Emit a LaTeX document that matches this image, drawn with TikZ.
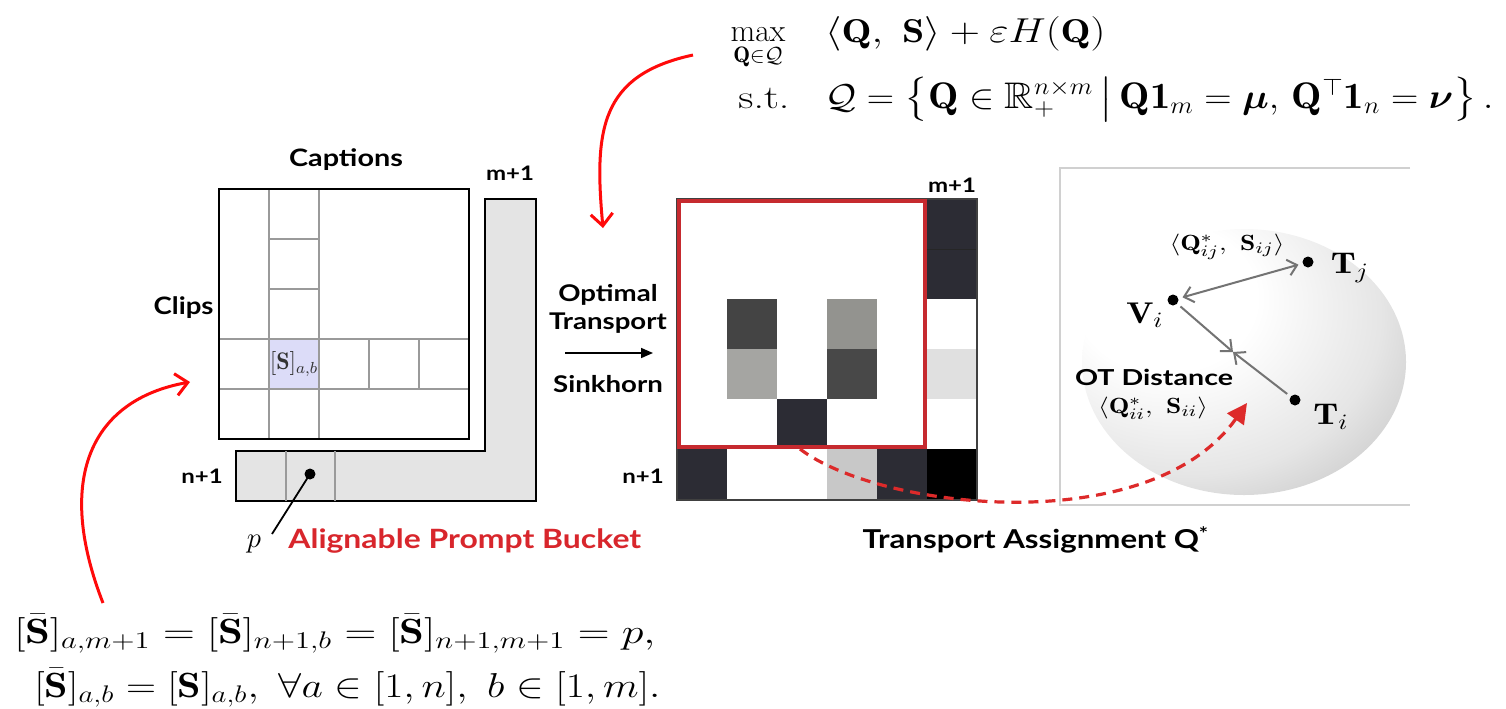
\documentclass[tikz,border=0pt]{standalone}
\usepackage{amsmath,amssymb}
\usepackage{fontspec}
\setsansfont{Lato}
\usetikzlibrary{arrows.meta}
\definecolor{arrowred}{HTML}{FF0A0A}
\definecolor{boxred}{HTML}{C62A2F}
\definecolor{txtred}{HTML}{D8262C}
\definecolor{dashred}{HTML}{DD2A2A}
\definecolor{lshapegray}{HTML}{E4E4E4}
\definecolor{gridgray}{HTML}{9A9A9A}
\definecolor{lavender}{HTML}{DCDCF8}
\definecolor{cdark}{HTML}{2C2C34}
\definecolor{cmid}{HTML}{444444}
\definecolor{clight}{HTML}{A5A5A2}
\definecolor{cgrey}{HTML}{93938F}
\definecolor{cmid2}{HTML}{484848}
\definecolor{cpale}{HTML}{E0E0E0}
\definecolor{cpale2}{HTML}{C8C8C8}
\definecolor{panelgray}{HTML}{D0D0D0}
\definecolor{vecgray}{HTML}{737373}
\newcommand{\xs}[2]{\scalebox{#1}[1]{#2}}
\pgfdeclareradialshading{ballshade}{\pgfpoint{-15bp}{15bp}}{color(0bp)=(white); color(14bp)=(white); color(30bp)=(black!10); color(50bp)=(black!33); color(72bp)=(black!62)}
\tikzset{
  lab/.style={font=\sffamily\bfseries\fontsize{12}{14}\selectfont, inner sep=0pt},
  smalllab/.style={font=\sffamily\bfseries\fontsize{10}{12}\selectfont, inner sep=0pt},
  mth/.style={font=\fontsize{16.5}{20}\selectfont, inner sep=0pt},
  botmth/.style={font=\fontsize{17.5}{20}\selectfont, inner sep=0pt},
  cellmath/.style={font=\fontsize{12}{14}\selectfont, inner sep=0pt, text=black!80},
  spheremath/.style={font=\fontsize{11}{13}\selectfont, inner sep=0pt},
  bigmath/.style={font=\fontsize{15}{17}\selectfont, inner sep=0pt},
  gridl/.style={draw=gridgray, line width=1pt},
  outerbox/.style={draw=black, line width=1pt},
  dot/.style={circle, fill=black, inner sep=0pt, minimum size=5.5pt},
  redcurve/.style={draw=arrowred, line width=1.5pt, -{Straight Barb[length=6pt,width=11pt,line width=1.5pt]}},
  vecarrow/.style={draw=vecgray, line width=1pt, -{Straight Barb[length=4.5pt,width=8pt,line width=1pt]}},
}
\begin{document}
\begin{tikzpicture}[x=0.5pt,y=-0.5pt]
\useasboundingbox (0,0) rectangle (1506,708);

% ---------- top formula ----------
\node[font=\fontsize{16}{18}\selectfont, inner sep=0pt, anchor=base] (maxop) at (758,41) {$\max\limits_{\mathbf{Q}\in\mathcal{Q}}$};
\node[mth, anchor=base west] (obj) at (825,42) {\resizebox{140pt}{\height}{$\langle\mathbf{Q},\ \mathbf{S}\rangle+\varepsilon H(\mathbf{Q})$}};
\node[mth, anchor=base west] (st) at (738,108) {\resizebox{25.5pt}{\height}{s.t.}};
\node[font=\fontsize{18.5}{22}\selectfont, inner sep=0pt, anchor=base west] (cons) at (825,108) {\resizebox{334pt}{\height}{$\mathcal{Q}=\left\{\mathbf{Q}\in\mathbb{R}_{+}^{n\times m}\,\middle|\,\mathbf{Q}\mathbf{1}_{m}=\boldsymbol{\mu},\,\mathbf{Q}^{\top}\mathbf{1}_{n}=\boldsymbol{\nu}\right\}.$}};

% ---------- left matrix ----------
\fill[lavender] (269,339) rectangle (319,389);
\draw[gridl] (269,189) -- (269,439) (319,189) -- (319,439)
  (219,339) -- (469,339) (219,389) -- (469,389)
  (269,239) -- (319,239) (269,289) -- (319,289)
  (369,339) -- (369,389) (419,339) -- (419,389);
\draw[outerbox] (219,189) rectangle (469,439);
\node[cellmath] (sab) at (294,364) {$[\mathbf{S}]_{a,b}$};

\draw[outerbox, fill=lshapegray] (485,199) -- (536,199) -- (536,501) -- (236,501) -- (236,451) -- (485,451) -- cycle;
\draw[gridl] (286,451) -- (286,501) (335,451) -- (335,501);
\node[dot] (pdot) at (310,474) {};
\coordinate (pend) at (272,534);
\draw[line width=0.9pt] (pdot.center) -- (pend);
\node[font=\fontsize{15}{17}\selectfont, inner sep=0pt] (plab) at (254,544) {$p$};

\node[lab] (captions) at (346,160) {\xs{1.2}{Captions}};
\node[lab, anchor=east] (clips) at (214,308) {\xs{1.15}{Clips}};
\node[smalllab] (m1a) at (510,173) {\xs{1.2}{m+1}};
\node[smalllab] (n1a) at (202,476) {\xs{1.2}{n+1}};
\node[lab, anchor=west, text=txtred, font=\sffamily\bfseries\fontsize{13.3}{15}\selectfont] (bucket) at (288,541) {\xs{1.2}{Alignable Prompt Bucket}};

% ---------- OT arrow ----------
\node[lab, font=\sffamily\bfseries\fontsize{11.5}{14}\selectfont] (optlab) at (608,295) {\xs{1.2}{Optimal}};
\node[lab, font=\sffamily\bfseries\fontsize{11.5}{14}\selectfont] (translab) at (608,323) {\xs{1.2}{Transport}};
\node[lab, font=\sffamily\bfseries\fontsize{11.5}{14}\selectfont] (sink) at (608,384) {\xs{1.2}{Sinkhorn}};
\coordinate (otA) at (565,353);
\coordinate (otB) at (653,353);
\draw[line width=0.8pt, -{Triangle[length=6pt,width=5pt]}] (otA) -- (otB);

% ---------- right matrix ----------
\fill[cmid]   (727,299) rectangle (777,349);
\fill[clight] (727,349) rectangle (777,399);
\fill[cgrey]  (827,299) rectangle (877,349);
\fill[cmid2]  (827,349) rectangle (877,399);
\fill[cdark]  (777,399) rectangle (827,449);
\fill[cdark]  (927,199) rectangle (977,299);
\draw[black!85, line width=0.4pt] (927,249) -- (977,249);
\fill[cpale]  (927,349) rectangle (977,399);
\fill[cdark]  (677,449) rectangle (727,500);
\fill[cpale2] (827,449) rectangle (877,500);
\fill[cdark]  (877,449) rectangle (927,500);
\fill[black]  (927,449) rectangle (977,500);
\draw[black!75, line width=0.8pt] (677,199) rectangle (977,500);
\draw[boxred, line width=2pt] (679,201) rectangle (925,447);
\node[smalllab] (m1b) at (952,185) {\xs{1.2}{m+1}};
\node[smalllab] (n1b) at (643,476) {\xs{1.2}{n+1}};
\node[lab, font=\sffamily\bfseries\fontsize{13}{15}\selectfont] (assign) at (1036,540) {\xs{1.2}{Transport Assignment Q\textsuperscript{*}}};

% ---------- sphere panel ----------
\draw[panelgray, line width=0.6pt] (1410,168) -- (1060,168) -- (1060,505) -- (1410,505);
\shade[shading=ballshade] (1244,362) ellipse [x radius=81pt, y radius=66.5pt];

\node[dot] (vi) at (1173,300) {};
\node[dot] (tj) at (1308,262) {};
\node[dot] (ti) at (1295,400) {};
\coordinate (meet) at (1233,352);
\draw[vecgray, line width=1pt, {Straight Barb[length=4.5pt,width=8pt,line width=1pt]}-{Straight Barb[length=4.5pt,width=8pt,line width=1pt]}, shorten <=2pt, shorten >=2pt] (vi) -- (tj);
\draw[vecarrow, shorten <=2pt] (vi) -- (meet);
\draw[vecarrow, shorten <=2pt] (ti) -- (meet);

\node[bigmath] (tjlab) at (1350,268) {\xs{1.2}{$\mathbf{T}_j$}};
\node[bigmath] (vilab) at (1145,315) {\xs{1.2}{$\mathbf{V}_i$}};
\node[bigmath] (tilab) at (1331,417) {\xs{1.2}{$\mathbf{T}_i$}};
\node[spheremath] (qij) at (1227,247) {\xs{1.25}{$\langle\mathbf{Q}^{*}_{ij},\ \mathbf{S}_{ij}\rangle$}};
\node[font=\sffamily\bfseries\fontsize{11}{13}\selectfont, inner sep=0pt] (otd) at (1154,377) {\xs{1.3}{OT Distance}};
\node[spheremath] (qii) at (1153,408) {\xs{1.25}{$\langle\mathbf{Q}^{*}_{ii},\ \mathbf{S}_{ii}\rangle$}};

% ---------- dashed red arrow ----------
\coordinate (dstart) at (800,449);
\coordinate (dend) at (1247,403);
\draw[dashred, line width=1.6pt, dash pattern=on 5pt off 3.5pt, -{Triangle[length=10pt,width=10pt]}] (dstart) .. controls (880,510) and (1150,540) .. (dend);

% ---------- bottom formula ----------
\node[botmth, anchor=base west] (eq1) at (14,643) {\resizebox{320.5pt}{\height}{$[\bar{\mathbf{S}}]_{a,m+1}=[\bar{\mathbf{S}}]_{n+1,b}=[\bar{\mathbf{S}}]_{n+1,m+1}=p,$}};
\node[botmth, anchor=base west] (eq2) at (34,697) {\resizebox{313pt}{\height}{$[\bar{\mathbf{S}}]_{a,b}=[\mathbf{S}]_{a,b},\ \forall a\in[1,n],\ b\in[1,m].$}};

% ---------- red curved arrows ----------
\coordinate (c1s) at (103,603);
\coordinate (c1e) at (190,382);
\draw[redcurve] (c1s) .. controls (55,480) and (90,400) .. (c1e);
\coordinate (c2s) at (693,55);
\coordinate (c2e) at (603,228);
\draw[redcurve] (c2s) .. controls (600,75) and (594,130) .. (c2e);
\end{tikzpicture}
\end{document}
